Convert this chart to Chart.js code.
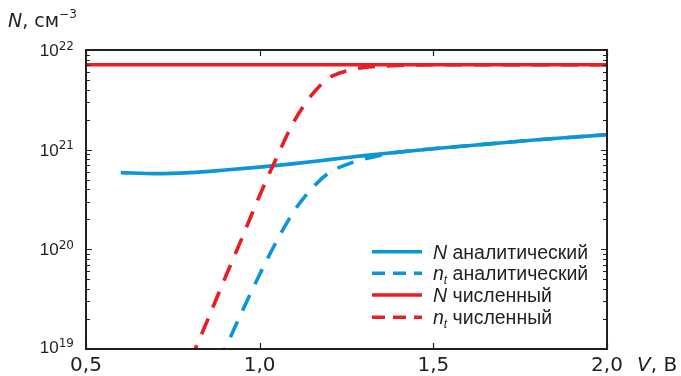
<!DOCTYPE html>
<html><head><meta charset="utf-8">
<script src="https://cdn.jsdelivr.net/npm/chart.js@4/dist/chart.umd.min.js"></script>
<style>html,body{margin:0;padding:0;background:#fff;}#wrap{width:681px;height:376px;}canvas{display:block;}</style>
</head><body>
<div id="wrap"><canvas id="c" width="681" height="376"></canvas></div>
<script>
// ---- data ----
const xTicks = [0.5, 1.0, 1.5, 2.0];
const xTickLabels = ['0,5', '1,0', '1,5', '2,0'];
const yDecades = [19, 20, 21, 22];

const nAnalyticV = [0.6, 0.7, 0.8, 0.9, 1.0, 1.1, 1.2, 1.3, 1.4, 1.5, 1.6, 1.7, 1.8, 1.9, 2.0];
const nAnalyticN = [5.89e20, 5.75e20, 5.89e20, 6.24e20, 6.68e20, 7.24e20, 7.94e20, 8.71e20, 9.44e20, 1.023e21, 1.096e21, 1.175e21, 1.259e21, 1.334e21, 1.413e21];

const ntAnalyticV = [0.88, 0.90, 0.95, 1.00, 1.05, 1.10, 1.15, 1.20, 1.25, 1.30, 1.35, 1.40, 1.5, 1.6, 1.7, 1.8, 1.9, 2.0];
const ntAnalyticN = [7.2e18, 1.0e19, 2.4e19, 5.6e19, 1.23e20, 2.45e20, 4.07e20, 5.89e20, 7.08e20, 8.04e20, 8.81e20, 9.44e20, 1.023e21, 1.096e21, 1.175e21, 1.259e21, 1.334e21, 1.413e21];

const nNumericV = [0.5, 2.0];
const nNumericN = [7.1e21, 7.1e21];

const ntNumericV = [0.80, 0.85, 0.90, 0.95, 1.00, 1.05, 1.10, 1.15, 1.20, 1.25, 1.30, 1.40, 1.50, 1.60, 1.80, 2.00];
const ntNumericN = [7.6e18, 1.95e19, 5.13e19, 1.32e20, 3.47e20, 8.5e20, 1.95e21, 3.55e21, 5.25e21, 6.17e21, 6.68e21, 7.0e21, 7.1e21, 7.1e21, 7.1e21, 7.1e21];

const legendLabels = [
  {sym: 'N', sub: '', text: ' аналитический'},
  {sym: 'n', sub: 't', text: ' аналитический'},
  {sym: 'N', sub: '', text: ' численный'},
  {sym: 'n', sub: 't', text: ' численный'}
];

const BLUE = '#0a96d9';
const RED = '#ec1c24';
const INK = '#231f20';
const FONT = '"Liberation Sans", Arial, Helvetica, sans-serif';
const WIDE = '"DejaVu Sans", Verdana, sans-serif';

function pts(xs, ys) { return xs.map((x, i) => ({x: x, y: ys[i]})); }

const datasets = [
  {data: pts(ntNumericV, ntNumericN), borderColor: RED, borderDash: [17, 12]},
  {data: pts(ntAnalyticV, ntAnalyticN), borderColor: BLUE, borderDash: [17, 12]},
  {data: pts(nAnalyticV, nAnalyticN), borderColor: BLUE, borderDash: []},
  {data: pts(nNumericV, nNumericN), borderColor: RED, borderDash: []}
].map(d => Object.assign({
  borderWidth: 3.6, pointRadius: 0, fill: false, cubicInterpolationMode: 'monotone', borderCapStyle: 'butt'
}, d));

const legendStyles = [
  {color: BLUE, dash: []},
  {color: BLUE, dash: [13, 8]},
  {color: RED, dash: []},
  {color: RED, dash: [13, 8]}
];

function drawRich(ctx, x, y, parts) {
  let cx = x;
  for (const p of parts) {
    ctx.font = p.font;
    ctx.fillText(p.t, cx, y + (p.dy || 0));
    cx += ctx.measureText(p.t).width + (p.gap || 0);
  }
}

const framePlugin = {
  id: 'frame',
  afterDatasetsDraw(chart) {
    const ctx = chart.ctx;
    const a = chart.chartArea;
    const xs = chart.scales.x, ys = chart.scales.y;
    ctx.save();
    ctx.strokeStyle = INK;
    ctx.fillStyle = INK;
    // box
    ctx.lineWidth = 2;
    ctx.strokeRect(a.left, a.top, a.right - a.left, a.bottom - a.top);
    // y ticks (log, inward on both sides)
    ctx.lineWidth = 1.2;
    ctx.beginPath();
    for (let e = 19; e <= 21; e++) {
      for (let m = 1; m <= 9; m++) {
        const yy = Math.round(ys.getPixelForValue(m * Math.pow(10, e))) + 0.5;
        const len = m === 1 ? 6 : 4;
        ctx.moveTo(a.left, yy); ctx.lineTo(a.left + len, yy);
        ctx.moveTo(a.right, yy); ctx.lineTo(a.right - len, yy);
      }
    }
    // x ticks (inward on bottom and top)
    for (const v of xTicks) {
      const xx = Math.round(xs.getPixelForValue(v)) + 0.5;
      ctx.moveTo(xx, a.bottom); ctx.lineTo(xx, a.bottom - 6);
      ctx.moveTo(xx, a.top); ctx.lineTo(xx, a.top + 6);
    }
    ctx.stroke();

    // y tick labels 10^n
    ctx.textAlign = 'left';
    ctx.textBaseline = 'alphabetic';
    for (const e of yDecades) {
      const yy = ys.getPixelForValue(Math.pow(10, e));
      const base = yy + (e === 19 ? 4 : 6);
      ctx.font = '12px ' + WIDE;
      const sw = ctx.measureText(String(e)).width;
      ctx.font = '17px ' + FONT;
      const mw = ctx.measureText('10').width;
      const right = a.left - 12;
      ctx.fillText('10', right - sw - mw, base);
      ctx.font = '12px ' + WIDE;
      ctx.fillText(String(e), right - sw, base - 6.5);
    }

    // axis titles
    drawRich(ctx, 8, 27, [
      {t: 'N', font: 'italic 19px ' + WIDE},
      {t: ', см', font: '19px ' + WIDE},
      {t: '\u22123', font: '12px ' + WIDE, dy: -9}
    ]);
    drawRich(ctx, 637, 371, [
      {t: 'V', font: 'italic 20px ' + WIDE},
      {t: ', В', font: '20px ' + WIDE}
    ]);

    // legend
    const rows = [251.7, 273.3, 295, 317.3];
    for (let i = 0; i < legendLabels.length; i++) {
      const y = rows[i];
      ctx.save();
      ctx.strokeStyle = legendStyles[i].color;
      ctx.lineWidth = 3.6;
      ctx.setLineDash(legendStyles[i].dash);
      ctx.beginPath();
      ctx.moveTo(372, y); ctx.lineTo(422, y);
      ctx.stroke();
      ctx.restore();
      const L = legendLabels[i];
      const parts = [{t: L.sym, font: 'italic 19.5px ' + FONT}];
      if (L.sub) parts.push({t: L.sub, font: 'italic 12px ' + FONT, dy: 4});
      parts.push({t: L.text, font: '19.5px ' + FONT});
      drawRich(ctx, 433, y + 7, parts);
    }
    ctx.restore();
  }
};

new Chart(document.getElementById('c'), {
  type: 'line',
  data: {datasets: datasets},
  options: {
    responsive: false,
    animation: false,
    devicePixelRatio: 1,
    layout: {padding: {left: 0, right: 74, top: 50, bottom: 0}},
    plugins: {legend: {display: false}, tooltip: {enabled: false}},
    scales: {
      x: {
        type: 'linear', min: 0.5, max: 2.0,
        grid: {display: false, drawTicks: false},
        border: {display: false},
        afterBuildTicks: s => { s.ticks = xTicks.map(v => ({value: v})); },
        ticks: {
          color: INK, padding: 5, maxRotation: 0, autoSkip: false,
          font: {family: WIDE, size: 20},
          callback: (v) => { const i = xTicks.indexOf(v); return i >= 0 ? xTickLabels[i] : ''; }
        },
        afterFit: s => { s.height = 27; }
      },
      y: {
        type: 'logarithmic', min: 1e19, max: 1e22,
        grid: {display: false, drawTicks: false},
        border: {display: false},
        ticks: {display: false},
        afterFit: s => { s.width = 86; }
      }
    }
  },
  plugins: [framePlugin]
});
</script>
</body></html>
